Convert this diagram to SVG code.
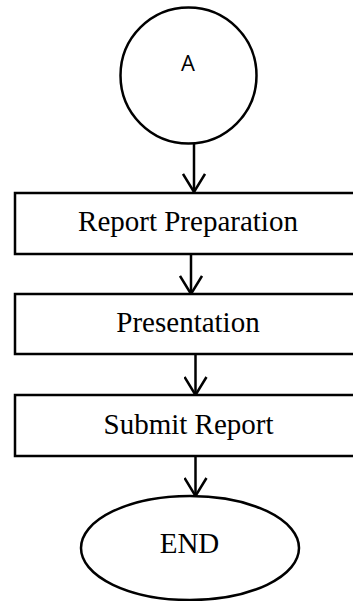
<svg xmlns="http://www.w3.org/2000/svg" width="353" height="601" viewBox="0 0 353 601">
<style>
.s{fill:#fff;stroke:#000;stroke-width:2.5}
.t{font-family:"Liberation Serif",serif;font-size:29px;text-anchor:middle;fill:#000}
.c{stroke:#000;stroke-width:2.5;fill:none}
</style>
<defs>
<marker id="ah" viewBox="0 0 20 24" refX="19" refY="12" markerWidth="20" markerHeight="24" markerUnits="userSpaceOnUse" orient="auto">
<path d="M1,1 L19,12 L1,23" fill="none" stroke="#000" stroke-width="2.5"/>
</marker>
</defs>
<rect width="353" height="601" fill="#fff"/>
<g id="connectors">
<line class="c" x1="194" y1="144" x2="194" y2="192" marker-end="url(#ah)"/>
<line class="c" x1="191" y1="254" x2="191" y2="294" marker-end="url(#ah)"/>
<line class="c" x1="195.5" y1="354" x2="195.5" y2="395" marker-end="url(#ah)"/>
<line class="c" x1="195.5" y1="456" x2="195.5" y2="496" marker-end="url(#ah)"/>
</g>
<g id="nodeA">
<circle class="s" cx="188.5" cy="75.5" r="68"/>
<text x="188" y="71" style="font-family:'Open Sans','Liberation Sans',sans-serif;font-size:22px;text-anchor:middle">A</text>
</g>
<g id="report-preparation">
<rect class="s" x="15" y="193" width="360" height="61"/>
<text class="t" x="188" y="231">Report Preparation</text>
</g>
<g id="presentation">
<rect class="s" x="15" y="294" width="360" height="60"/>
<text class="t" x="188" y="332">Presentation</text>
</g>
<g id="submit-report">
<rect class="s" x="15" y="395" width="360" height="61"/>
<text class="t" x="188.5" y="434">Submit Report</text>
</g>
<g id="end">
<ellipse class="s" cx="190" cy="548" rx="109" ry="52"/>
<text class="t" x="189.5" y="553">END</text>
</g>
</svg>
